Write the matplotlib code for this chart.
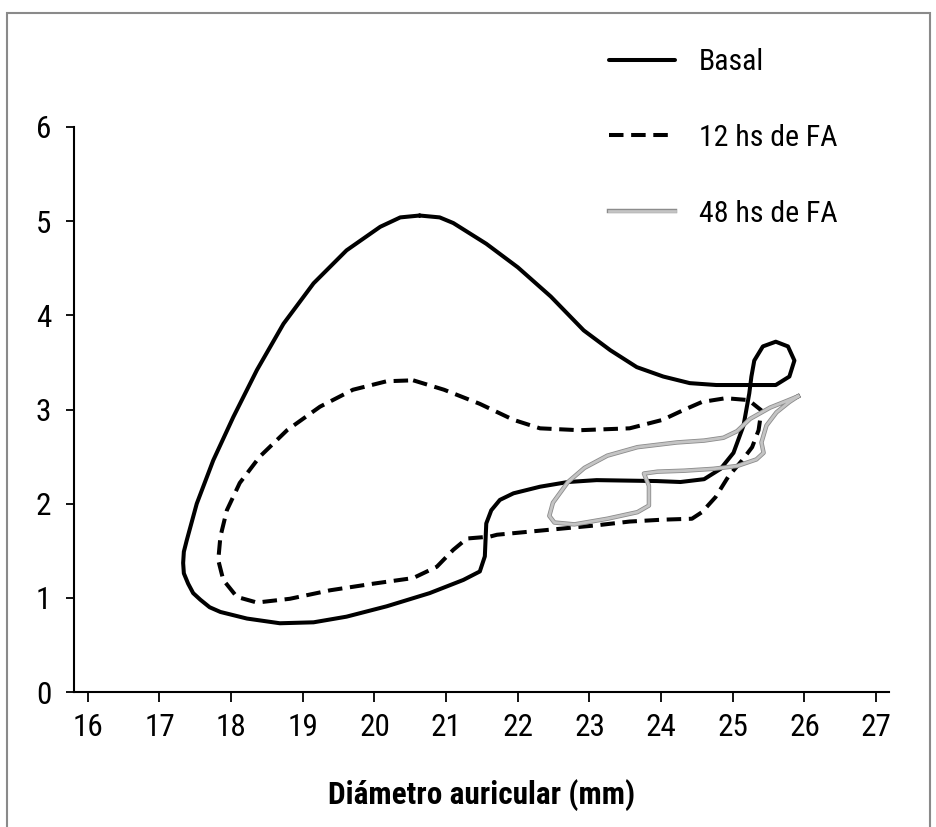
import matplotlib
matplotlib.use("Agg")
import matplotlib.pyplot as plt
from matplotlib.patches import Rectangle
from matplotlib import font_manager
import matplotlib.patheffects as pe

# ---- choose a condensed sans font if one is installed ----
fl = font_manager.fontManager.ttflist
names = {f.name for f in fl}
family, stretch = 'DejaVu Sans', 'normal'
for cand in ['Roboto Condensed', 'Liberation Sans Narrow', 'Open Sans Condensed',
             'Noto Sans Condensed', 'DejaVu Sans Condensed', 'Arial Narrow']:
    if cand in names:
        family = cand
        break
else:
    for cand in ['Roboto', 'Noto Sans', 'Open Sans', 'DejaVu Sans']:
        if any(f.name == cand and (f.stretch in ('condensed', 'semi-condensed') or
               (isinstance(f.stretch, int) and f.stretch < 500)) for f in fl):
            family, stretch = cand, 'condensed'
            break
plt.rcParams['font.family'] = [family, 'DejaVu Sans']
plt.rcParams['font.stretch'] = stretch

# ---- data (diámetro auricular mm, y-values) ----
basal_x = [20.63, 20.91, 21.10, 21.56, 22.00, 22.46, 22.92, 23.29, 23.66, 24.03, 24.40, 24.77, 25.23,
           25.60, 25.79, 25.86, 25.77, 25.60, 25.42, 25.30, 25.26, 25.23, 25.15, 25.01, 24.83, 24.60,
           24.27, 23.94, 23.10, 22.70, 22.31, 21.94, 21.75, 21.63, 21.56, 21.54, 21.47, 21.24, 20.77,
           20.17, 19.61, 19.15, 18.68, 18.22, 17.85, 17.70, 17.57, 17.47, 17.40, 17.34, 17.33, 17.34,
           17.38, 17.52, 17.75, 18.03, 18.36, 18.73, 19.15, 19.61, 20.08, 20.36, 20.63]
basal_y = [5.06, 5.04, 4.98, 4.76, 4.51, 4.20, 3.84, 3.63, 3.45, 3.35, 3.28, 3.26, 3.26,
           3.26, 3.35, 3.52, 3.67, 3.72, 3.67, 3.52, 3.35, 3.17, 2.83, 2.54, 2.37, 2.26,
           2.23, 2.24, 2.25, 2.23, 2.18, 2.11, 2.04, 1.93, 1.79, 1.44, 1.28, 1.19, 1.05,
           0.91, 0.80, 0.74, 0.73, 0.78, 0.85, 0.90, 0.98, 1.05, 1.15, 1.26, 1.37, 1.49,
           1.61, 2.00, 2.46, 2.92, 3.42, 3.91, 4.34, 4.69, 4.94, 5.04, 5.06]

fa12_x = [20.54, 20.97, 21.47, 21.94, 22.31, 22.86, 23.56, 24.02, 24.30, 24.57, 24.90, 25.22, 25.40,
          25.36, 25.27, 25.13, 24.94, 24.76, 24.57, 24.43, 24.02, 23.56, 23.10, 22.40, 21.71, 21.61,
          21.29, 21.10, 20.87, 20.54, 19.98, 19.38, 18.82, 18.36, 18.08, 17.89, 17.82, 17.85, 17.94,
          18.12, 18.40, 18.78, 19.24, 19.70, 20.17, 20.54]
fa12_y = [3.31, 3.21, 3.06, 2.89, 2.80, 2.78, 2.80, 2.89, 2.99, 3.08, 3.12, 3.10, 2.99,
          2.78, 2.60, 2.46, 2.29, 2.07, 1.91, 1.84, 1.83, 1.81, 1.77, 1.72, 1.67, 1.65,
          1.63, 1.51, 1.33, 1.21, 1.15, 1.08, 0.99, 0.95, 1.01, 1.19, 1.40, 1.65, 1.93,
          2.22, 2.50, 2.78, 3.03, 3.21, 3.30, 3.31]

fa48_x = [25.91, 25.75, 25.52, 25.24, 25.06, 24.87, 24.60, 24.22, 23.67, 23.25, 22.93, 22.70, 22.49,
          22.44, 22.51, 22.79, 23.25, 23.67, 23.83, 23.83, 23.76, 23.95, 24.32, 24.73, 25.06, 25.33,
          25.43, 25.40, 25.47, 25.61, 25.79, 25.91]
fa48_y = [3.14, 3.09, 3.02, 2.90, 2.77, 2.70, 2.67, 2.65, 2.60, 2.51, 2.38, 2.23, 2.01,
          1.87, 1.80, 1.78, 1.84, 1.91, 1.98, 2.19, 2.32, 2.34, 2.35, 2.37, 2.40, 2.47,
          2.54, 2.65, 2.83, 2.97, 3.08, 3.14]

labels = ['Basal', '12 hs de FA', '48 hs de FA']
xlabel = 'Diámetro auricular (mm)'
xticks = list(range(16, 28))
yticks = list(range(0, 7))

fig = plt.figure(figsize=(9.36, 8.27), dpi=100)
fig.patches.append(Rectangle((7/936, -0.05), (930-7)/936, (827-13)/827 + 0.05,
                             transform=fig.transFigure, fill=False,
                             edgecolor='#8a8a8a', linewidth=1.5, clip_on=False))

ax = fig.add_axes([73.5/936, (827-692)/827, (889-73.5)/936, (692-127)/827])
ax.plot(basal_x, basal_y, color='black', lw=2.9, solid_joinstyle='round',
        solid_capstyle='round', label=labels[0])
ax.plot(fa12_x, fa12_y, color='black', lw=2.9, dashes=(3.6, 1.9), label=labels[1])
ax.plot(fa48_x, fa48_y, color='#c4c4c4', lw=2.0, solid_joinstyle='round', label=labels[2],
        path_effects=[pe.Stroke(linewidth=3.2, foreground='#8c8c8c'), pe.Normal()])

ax.set_xlim(15.80, 27.18)
ax.set_ylim(0, 6)
ax.set_xticks(xticks)
ax.set_yticks(yticks)
for s in ['top', 'right']:
    ax.spines[s].set_visible(False)
for s in ['left', 'bottom']:
    ax.spines[s].set_linewidth(1.5)
ax.tick_params(axis='x', direction='out', length=7, width=1.3, labelsize=22.5, pad=8)
ax.tick_params(axis='y', direction='out', length=6, width=1.3, labelsize=22.5, pad=10)

ax.set_xlabel(xlabel, fontsize=22.5, fontweight='bold', labelpad=27)

leg = ax.legend(loc='upper left', bbox_to_anchor=(609/936, (827-48)/827),
                bbox_transform=fig.transFigure, frameon=False, fontsize=21.5,
                handlelength=2.2, handletextpad=0.8, labelspacing=1.6, borderpad=0,
                borderaxespad=0)

fig.savefig('out.png', dpi=100)
